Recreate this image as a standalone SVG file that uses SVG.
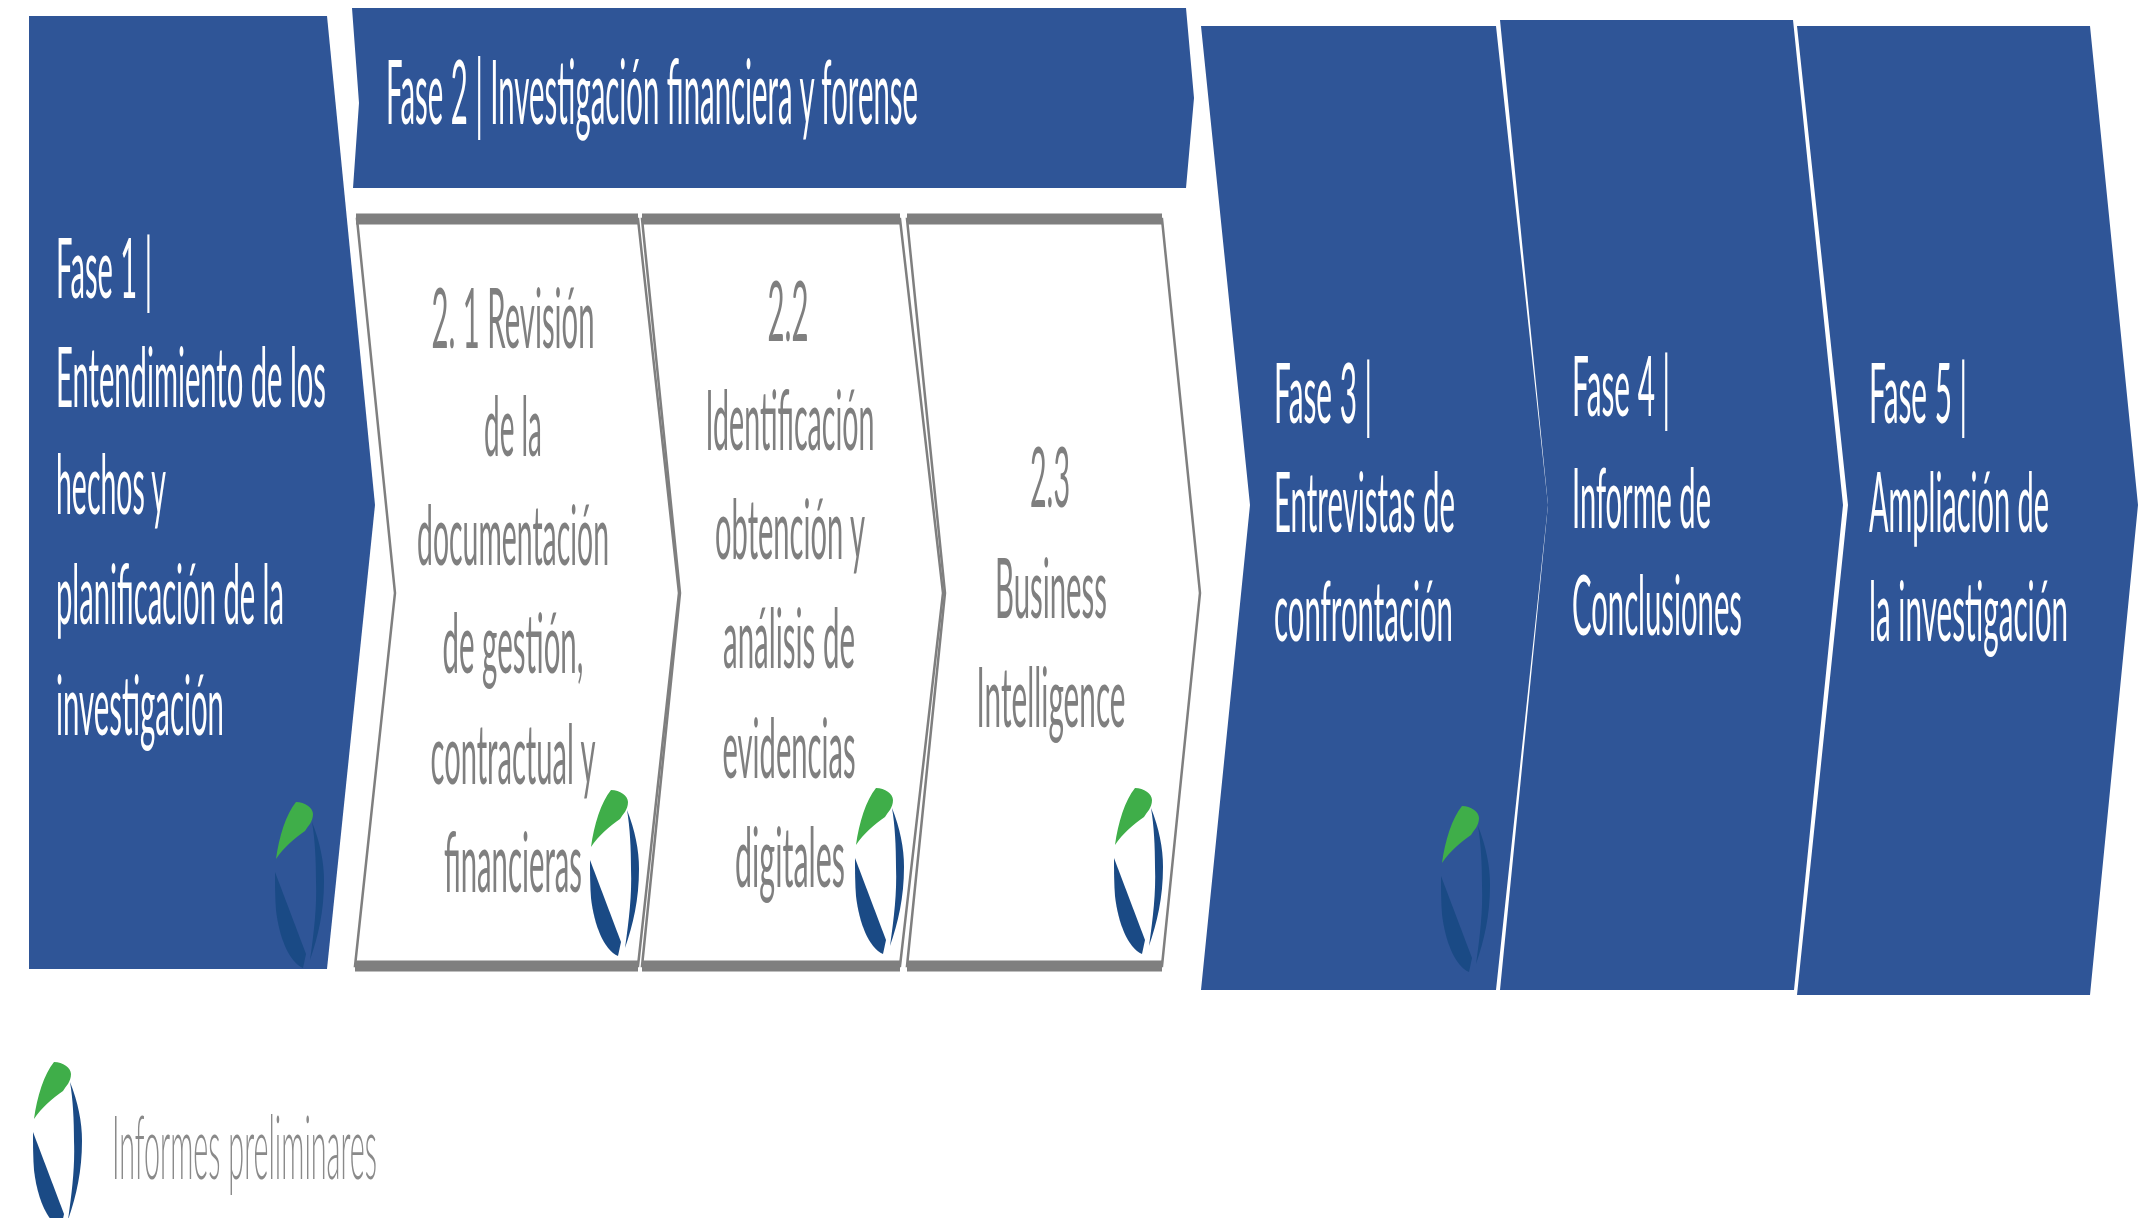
<svg xmlns="http://www.w3.org/2000/svg" width="2138" height="1218" viewBox="0 0 2138 1218">
<style>
.phase{fill:#2f5597}
.sub{fill:#fff;stroke:#7f7f7f;stroke-width:2.5}
.bar{stroke:#7f7f7f;stroke-width:11}
text{font-family:"Lato","Liberation Sans",sans-serif;font-size:84px;filter:url(#soft)}
.w{fill:#fff}
.g{fill:#7f7f7f;text-anchor:middle}
.l{fill:#8a8a8a;font-weight:300;font-size:88px}
.leaf{fill:#3fae49}
.navy{fill:#1a4a85}
.dim .navy{fill:#24518f}
</style>
<defs>
<filter id="soft" x="-5%" y="-20%" width="110%" height="140%"><feGaussianBlur stdDeviation="0.7"/></filter>
<g id="logo">
<path class="leaf" d="M1,57C4,35 11,12 21,0C30,0 38,6 38,12C38,20 33,24 30,29C20,36 8,46 1,57Z"/>
<path class="navy" d="M37,20C45,40 49,60 49,79C49,110 43,135 35,158C39,130 42,105 41,79C41,58 40,38 37,20Z"/>
<path class="navy" d="M0,70L31,152L28,166C14,160 4,135 1,108C0,95 0,82 0,70Z"/>
</g>
</defs>
<rect width="2138" height="1218" fill="#fff"/>

<g id="fase1">
<polygon class="phase" points="29,16 327,16 375,505 327,969 29,969"/>
<use href="#logo" x="275" y="802" class="dim"/>
<text class="w" x="56" y="298" textLength="96" lengthAdjust="spacingAndGlyphs">Fase 1 |</text>
<text class="w" x="56" y="407" textLength="270" lengthAdjust="spacingAndGlyphs">Entendimiento de los</text>
<text class="w" x="56" y="514" textLength="110" lengthAdjust="spacingAndGlyphs">hechos y</text>
<text class="w" x="56" y="624" textLength="228" lengthAdjust="spacingAndGlyphs">planificación de la</text>
<text class="w" x="56" y="735" textLength="168" lengthAdjust="spacingAndGlyphs">investigación</text>
</g>

<g id="fase2">
<polygon class="phase" points="352,8 1186,8 1194,98 1186,188 353,188 359,103"/>
<text class="w" x="386" y="124" textLength="532" lengthAdjust="spacingAndGlyphs" style="font-size:90px">Fase 2 | Investigación financiera y forense</text>
</g>

<g id="fase2-1">
<polygon class="sub" points="357,219 638,219 679,593 638,966 355,966 395,593"/>
<line class="bar" x1="356" y1="219" x2="638" y2="219"/>
<line class="bar" x1="355" y1="966" x2="638" y2="966"/>
<text class="g" x="513" y="348" textLength="163" lengthAdjust="spacingAndGlyphs">2. 1 Revisión</text>
<text class="g" x="513" y="456" textLength="58" lengthAdjust="spacingAndGlyphs">de la</text>
<text class="g" x="513" y="565" textLength="192" lengthAdjust="spacingAndGlyphs">documentación</text>
<text class="g" x="513" y="673" textLength="141" lengthAdjust="spacingAndGlyphs">de gestión,</text>
<text class="g" x="513" y="784" textLength="165" lengthAdjust="spacingAndGlyphs">contractual y</text>
<text class="g" x="513" y="892" textLength="138" lengthAdjust="spacingAndGlyphs">financieras</text>
<use href="#logo" x="590" y="790"/>
</g>

<g id="fase2-2">
<polygon class="sub" points="642,219 900,219 943,593 900,966 642,966 680,593"/>
<line class="bar" x1="642" y1="219" x2="900" y2="219"/>
<line class="bar" x1="642" y1="966" x2="900" y2="966"/>
<text class="g" x="788" y="341" textLength="41" lengthAdjust="spacingAndGlyphs">2.2</text>
<text class="g" x="790" y="450" textLength="169" lengthAdjust="spacingAndGlyphs">Identificación</text>
<text class="g" x="790" y="559" textLength="150" lengthAdjust="spacingAndGlyphs">obtención y</text>
<text class="g" x="789" y="668" textLength="132" lengthAdjust="spacingAndGlyphs">análisis de</text>
<text class="g" x="789" y="778" textLength="133" lengthAdjust="spacingAndGlyphs">evidencias</text>
<text class="g" x="790" y="887" textLength="110" lengthAdjust="spacingAndGlyphs">digitales</text>
<use href="#logo" x="855" y="788"/>
</g>

<g id="fase2-3">
<polygon class="sub" points="907,219 1162,219 1200,593 1162,966 907,966 945,593"/>
<line class="bar" x1="907" y1="219" x2="1162" y2="219"/>
<line class="bar" x1="907" y1="966" x2="1162" y2="966"/>
<text class="g" x="1050" y="507" textLength="40" lengthAdjust="spacingAndGlyphs">2.3</text>
<text class="g" x="1051" y="618" textLength="112" lengthAdjust="spacingAndGlyphs">Business</text>
<text class="g" x="1051" y="727" textLength="149" lengthAdjust="spacingAndGlyphs">Intelligence</text>
<use href="#logo" x="1114" y="788"/>
</g>

<g id="fase3">
<polygon class="phase" points="1201,26 1496,26 1548,505 1496,990 1201,990 1250,505"/>
<use href="#logo" x="1441" y="806" class="dim"/>
<text class="w" x="1274" y="423" textLength="98" lengthAdjust="spacingAndGlyphs">Fase 3 |</text>
<text class="w" x="1274" y="532" textLength="181" lengthAdjust="spacingAndGlyphs">Entrevistas de</text>
<text class="w" x="1274" y="641" textLength="179" lengthAdjust="spacingAndGlyphs">confrontación</text>
</g>

<g id="fase4">
<polygon class="phase" points="1500,20 1793,20 1843,505 1794,990 1500,990 1548,505"/>
<text class="w" x="1572" y="416" textLength="98" lengthAdjust="spacingAndGlyphs">Fase 4 |</text>
<text class="w" x="1572" y="528" textLength="139" lengthAdjust="spacingAndGlyphs">Informe de</text>
<text class="w" x="1572" y="635" textLength="170" lengthAdjust="spacingAndGlyphs">Conclusiones</text>
</g>

<g id="fase5">
<polygon class="phase" points="1797,26 2090,26 2138,505 2090,995 1797,995 1848,505"/>
<text class="w" x="1869" y="423" textLength="98" lengthAdjust="spacingAndGlyphs">Fase 5 |</text>
<text class="w" x="1869" y="532" textLength="180" lengthAdjust="spacingAndGlyphs">Ampliación de</text>
<text class="w" x="1869" y="641" textLength="199" lengthAdjust="spacingAndGlyphs">la investigación</text>
</g>

<g id="leyenda">
<use href="#logo" x="33" y="1062"/>
<text class="l" x="112" y="1179" textLength="265" lengthAdjust="spacingAndGlyphs">Informes preliminares</text>
</g>

<g id="connectors"></g>
</svg>
